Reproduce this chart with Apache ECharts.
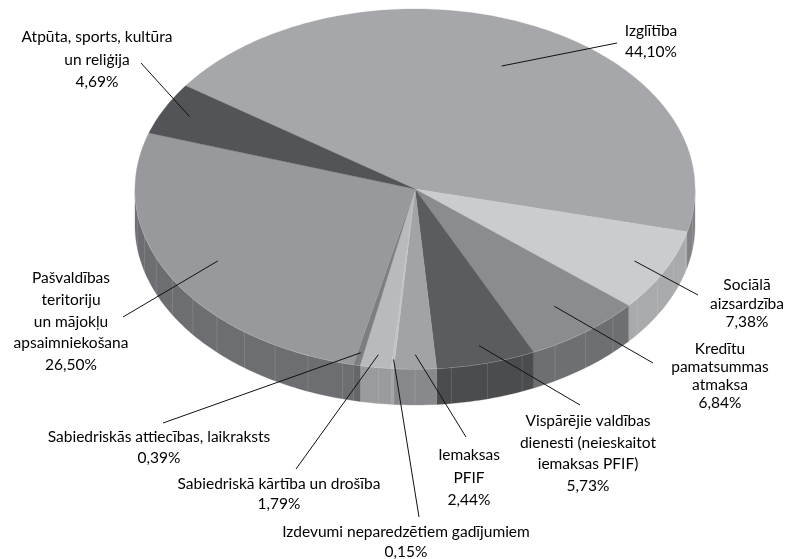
<!DOCTYPE html>
<html><head><meta charset="utf-8">
<script src="https://cdn.jsdelivr.net/npm/echarts@6/dist/echarts.min.js"></script>
<style>html,body{margin:0;padding:0;background:#fff}#c{width:787px;height:559px}</style>
</head><body><div id="c"></div>
<script>
// ---- data ----
const categories = ['Izglītība','Sociālā aizsardzība','Kredītu pamatsummas atmaksa','Vispārējie valdības dienesti (neieskaitot iemaksas PFIF)','Iemaksas PFIF','Izdevumi neparedzētiem gadījumiem','Sabiedriskā kārtība un drošība','Sabiedriskās attiecības, laikraksts','Pašvaldības teritoriju un mājokļu apsaimniekošana','Atpūta, sports, kultūra un reliģija'];
const values = [44.10, 7.38, 6.84, 5.73, 2.44, 0.15, 1.79, 0.39, 26.50, 4.69];
const labelLines = [['Izglītība'],['Sociālā','aizsardzība'],['Kredītu','pamatsummas','atmaksa'],['Vispārējie valdības','dienesti (neieskaitot','iemaksas PFIF)'],['Iemaksas','PFIF'],['Izdevumi neparedzētiem gadījumiem'],['Sabiedriskā kārtība un drošība'],['Sabiedriskās attiecības, laikraksts'],['Pašvaldības','teritoriju','un mājokļu','apsaimniekošana'],['Atpūta, sports, kultūra','un reliģija']];

// ---- styles / layout ----
const topColors  = ['#a6a7aa','#cbcccd','#8b8c8f','#5b5c5e','#a2a3a5','#c3c4c6','#b9babc','#7d7e81','#98999c','#535457'];
const sideColors = ['#818285','#a9aaac','#6e6f72','#4b4c4e','#88898c','#a3a4a6','#9a9b9d','#666769','#6d6e71','#444547'];
const geo = {cx:415, cy:189, rx:280, ry:180, depth:36, start:215, facet:7.5};
const labelLayout = [
  {x:651, y:31,  lh:21,   anchor:0.75, end:[617,43]},
  {x:747, y:285, lh:18.5, anchor:0.88, end:[698,295]},
  {x:720, y:349, lh:18,   anchor:0.82, end:[653,363]},
  {x:588, y:421, lh:21.5, anchor:0.9,  end:[580,405]},
  {x:469, y:455, lh:22.5, anchor:0.92, end:[466,437]},
  {x:406, y:532, lh:20,   anchor:0.95, end:[419,517]},
  {x:279, y:484, lh:20,   anchor:0.93, end:[296,469]},
  {x:159, y:437, lh:21,   anchor:0.93, end:[163,423]},
  {x:71,  y:278, lh:21.75,anchor:0.81, end:[123,317]},
  {x:97,  y:37,  lh:22.5, anchor:0.9,  end:[141,63]}
];
const FONT = '15.5px Lato';

const total = values.reduce((a,b)=>a+b,0);
const spans = (function(){ let a=geo.start; return values.map(v=>{const s=a; a+=v/total*360; return [s,a];}); })();
function pt(deg,f,dz){ const r=deg*Math.PI/180; return [geo.cx+geo.rx*f*Math.cos(r), geo.cy+geo.ry*f*Math.sin(r)+(dz||0)]; }
function arc(a0,a1,dz){ const pts=[]; const n=Math.max(2,Math.ceil(Math.abs(a1-a0)/1)); for(let i=0;i<=n;i++) pts.push(pt(a0+(a1-a0)*i/n,1,dz)); return pts; }
function fmt(v){ return v.toFixed(2).replace('.',',')+'%'; }

const data = values.map((v,i)=>({name:categories[i], value:v}));

function renderWall(params, api){
  const i=params.dataIndex; const [s,e]=spans[i]; const children=[];
  for (const k of [0,360]) {
    const lo=Math.max(s,k), hi=Math.min(e,k+180);
    if (lo<hi) {
      const pts=arc(lo,hi,0).concat(arc(hi,lo,geo.depth));
      children.push({type:'polygon', shape:{points:pts}, style:{fill:sideColors[i], stroke:sideColors[i], lineWidth:0.3}});
      for (let a=Math.ceil(lo/geo.facet)*geo.facet; a<hi; a+=geo.facet) {
        if (a-lo<1) continue;
        const p0=pt(a,1,0), p1=pt(a,1,geo.depth);
        children.push({type:'line', shape:{x1:p0[0],y1:p0[1],x2:p1[0],y2:p1[1]}, style:{stroke:'rgba(255,255,255,0.16)', lineWidth:0.8}});
      }
      children.push({type:'polyline', shape:{points:arc(lo,hi,0)}, style:{stroke:'rgba(255,255,255,0.45)', lineWidth:1, fill:null}});
    }
  }
  return {type:'group', children};
}

function renderTop(params, api){
  const i=params.dataIndex; const [s,e]=spans[i];
  const pts=[[geo.cx,geo.cy]].concat(arc(s,e,0));
  return {type:'polygon', shape:{points:pts}, style:{fill:topColors[i], stroke:topColors[i], lineWidth:0.3}};
}

function renderLabel(params, api){
  const i=params.dataIndex; const L=labelLayout[i]; const [s,e]=spans[i];
  const p=pt((s+e)/2, L.anchor, 0);
  const lines=labelLines[i].concat([fmt(api.value(0))]);
  const children=[{type:'line', shape:{x1:p[0],y1:p[1],x2:L.end[0],y2:L.end[1]}, style:{stroke:'#111', lineWidth:1}}];
  lines.forEach((t,j)=>children.push({type:'text', style:{text:t, x:L.x, y:L.y+j*L.lh, align:'center', verticalAlign:'middle', font:FONT, fill:'#000'}}));
  return {type:'group', children};
}

const chart = echarts.init(document.getElementById('c'), null, {renderer:'canvas'});
chart.setOption({
  animation:false,
  backgroundColor:'#fff',
  series:[
    {type:'custom', coordinateSystem:'none', z:1, data, renderItem:renderWall, silent:true},
    {type:'custom', coordinateSystem:'none', z:2, data, renderItem:renderTop, silent:true},
    {type:'custom', coordinateSystem:'none', z:3, data, renderItem:renderLabel, silent:true}
  ]
});
</script></body></html>
